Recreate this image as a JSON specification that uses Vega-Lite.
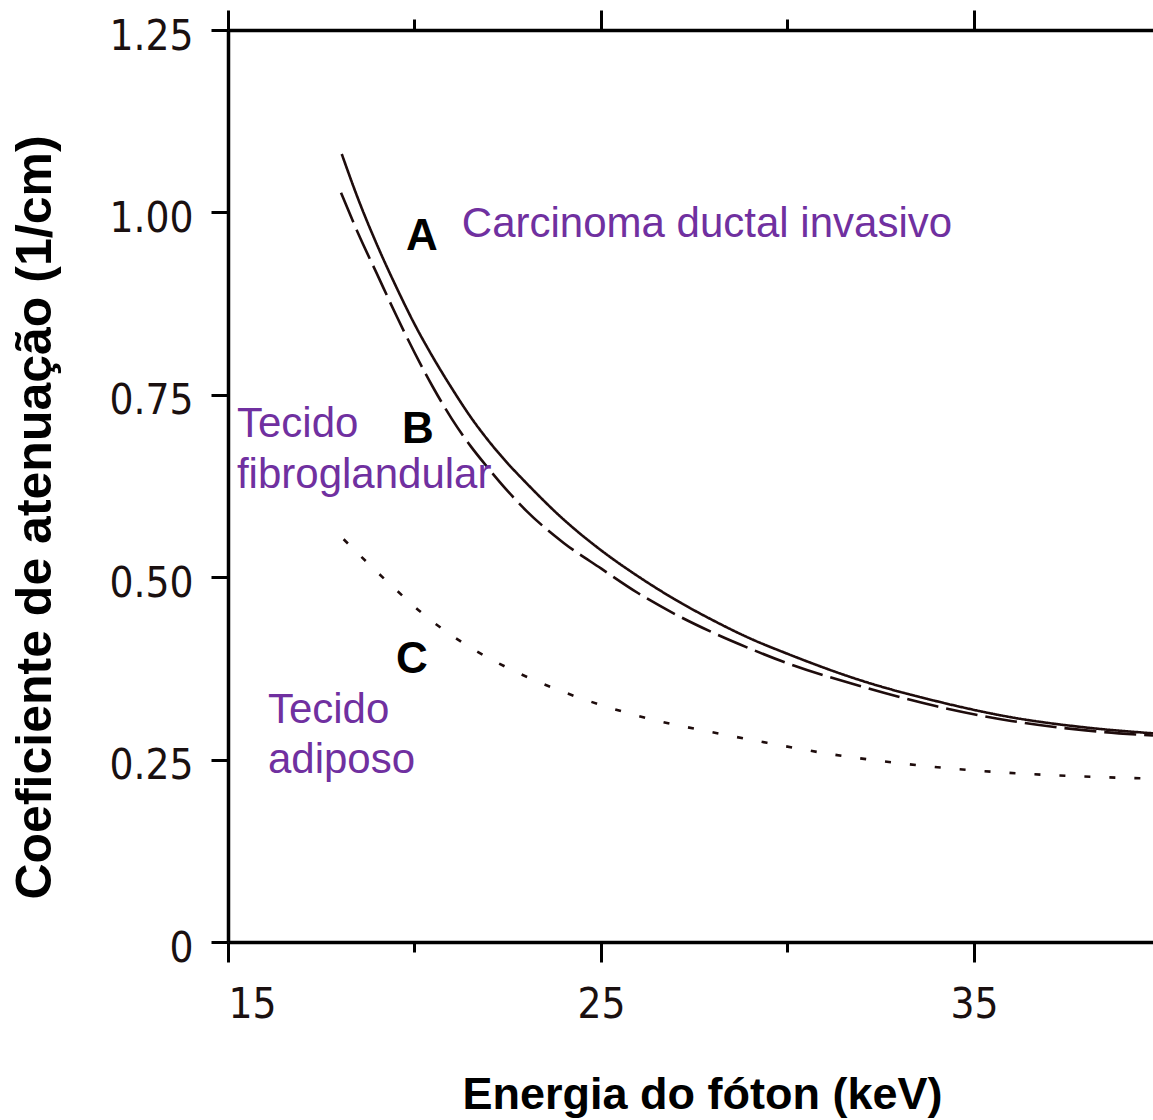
{
  "$schema": "https://vega.github.io/schema/vega-lite/v6.json",
  "width": 925,
  "height": 912,
  "autosize": {"type": "none"},
  "padding": {"left": 228, "top": 30, "right": 0, "bottom": 178},
  "background": "white",
  "config": {"view": {"stroke": null}},
  "resolve": {"axis": {"x": "independent", "y": "independent"}},
  "layer": [
    {
      "data": {"values": [
        {"x": 18.05, "y": 1.080, "s": "A"},
        {"x": 18.5, "y": 1.017, "s": "A"},
        {"x": 19.0, "y": 0.955, "s": "A"},
        {"x": 19.5, "y": 0.899, "s": "A"},
        {"x": 20.0, "y": 0.847, "s": "A"},
        {"x": 20.5, "y": 0.801, "s": "A"},
        {"x": 21.0, "y": 0.759, "s": "A"},
        {"x": 21.5, "y": 0.720, "s": "A"},
        {"x": 22.0, "y": 0.686, "s": "A"},
        {"x": 22.5, "y": 0.656, "s": "A"},
        {"x": 23.0, "y": 0.629, "s": "A"},
        {"x": 24.0, "y": 0.579, "s": "A"},
        {"x": 25.0, "y": 0.537, "s": "A"},
        {"x": 26.0, "y": 0.501, "s": "A"},
        {"x": 27.0, "y": 0.469, "s": "A"},
        {"x": 28.0, "y": 0.441, "s": "A"},
        {"x": 29.0, "y": 0.416, "s": "A"},
        {"x": 30.0, "y": 0.395, "s": "A"},
        {"x": 32.0, "y": 0.358, "s": "A"},
        {"x": 34.0, "y": 0.330, "s": "A"},
        {"x": 36.0, "y": 0.308, "s": "A"},
        {"x": 38.0, "y": 0.294, "s": "A"},
        {"x": 39.8, "y": 0.286, "s": "A"},
        {"x": 18.03, "y": 1.027, "s": "B"},
        {"x": 18.5, "y": 0.970, "s": "B"},
        {"x": 19.0, "y": 0.915, "s": "B"},
        {"x": 19.5, "y": 0.860, "s": "B"},
        {"x": 20.0, "y": 0.808, "s": "B"},
        {"x": 20.5, "y": 0.760, "s": "B"},
        {"x": 21.0, "y": 0.717, "s": "B"},
        {"x": 21.5, "y": 0.680, "s": "B"},
        {"x": 22.0, "y": 0.648, "s": "B"},
        {"x": 22.5, "y": 0.618, "s": "B"},
        {"x": 23.0, "y": 0.591, "s": "B"},
        {"x": 24.0, "y": 0.547, "s": "B"},
        {"x": 25.0, "y": 0.512, "s": "B"},
        {"x": 26.0, "y": 0.478, "s": "B"},
        {"x": 27.0, "y": 0.449, "s": "B"},
        {"x": 28.0, "y": 0.424, "s": "B"},
        {"x": 29.0, "y": 0.402, "s": "B"},
        {"x": 30.0, "y": 0.382, "s": "B"},
        {"x": 32.0, "y": 0.350, "s": "B"},
        {"x": 34.0, "y": 0.323, "s": "B"},
        {"x": 36.0, "y": 0.303, "s": "B"},
        {"x": 38.0, "y": 0.290, "s": "B"},
        {"x": 39.8, "y": 0.283, "s": "B"},
        {"x": 18.1, "y": 0.552, "s": "C"},
        {"x": 19.29, "y": 0.493, "s": "C"},
        {"x": 20.34, "y": 0.445, "s": "C"},
        {"x": 21.49, "y": 0.404, "s": "C"},
        {"x": 22.69, "y": 0.371, "s": "C"},
        {"x": 23.98, "y": 0.343, "s": "C"},
        {"x": 25.24, "y": 0.321, "s": "C"},
        {"x": 26.53, "y": 0.303, "s": "C"},
        {"x": 27.84, "y": 0.289, "s": "C"},
        {"x": 29.45, "y": 0.273, "s": "C"},
        {"x": 31.22, "y": 0.257, "s": "C"},
        {"x": 33.02, "y": 0.245, "s": "C"},
        {"x": 34.81, "y": 0.236, "s": "C"},
        {"x": 36.58, "y": 0.230, "s": "C"},
        {"x": 38.38, "y": 0.226, "s": "C"},
        {"x": 39.8, "y": 0.224, "s": "C"}
      ]},
      "mark": {"type": "line", "color": "#1e0c0c", "interpolate": "monotone"},
      "encoding": {
        "x": {
          "field": "x", "type": "quantitative",
          "scale": {"domain": [15, 39.8], "nice": false, "zero": false},
          "axis": {
            "orient": "bottom",
            "values": [15, 20, 25, 30, 35],
            "labelExpr": "datum.value % 10 == 5 ? datum.label : ''",
            "grid": false,
            "domainColor": "black", "domainWidth": 3.5,
            "tickColor": "black", "tickWidth": 3,
            "tickSize": {"condition": {"test": "datum.value % 10 == 5", "value": 20}, "value": 10},
            "labelFont": "DejaVu Sans Condensed, DejaVu Sans, sans-serif", "labelFontSize": 42, "labelColor": "#1a1010",
            "labelBaseline": "top", "labelPadding": 22, "labelOverlap": false,
            "title": "Energia do fóton (keV)",
            "titleFont": "Liberation Sans, Arial, sans-serif", "titleFontSize": 45, "titleFontWeight": "bold",
            "titleColor": "black", "titleX": 474, "titleY": 166,
            "titleAlign": "center", "titleBaseline": "alphabetic"
          }
        },
        "y": {
          "field": "y", "type": "quantitative",
          "scale": {"domain": [0, 1.25], "nice": false, "zero": false},
          "axis": {
            "orient": "left",
            "values": [0, 0.25, 0.5, 0.75, 1, 1.25],
            "labelExpr": "datum.value == 0 ? '0' : format(datum.value, '.2f')",
            "grid": false,
            "domainColor": "black", "domainWidth": 3.5,
            "tickColor": "black", "tickWidth": 3, "tickSize": 17,
            "labelFont": "DejaVu Sans Condensed, DejaVu Sans, sans-serif", "labelFontSize": 42, "labelColor": "#1a1010",
            "labelPadding": 18, "labelOffset": 6, "labelOverlap": false, "labelBound": false,
            "title": "Coeficiente de atenuação (1/cm)",
            "titleFont": "Liberation Sans, Arial, sans-serif", "titleFontSize": 50, "titleFontWeight": "bold",
            "titleColor": "black", "titleAngle": -90, "titleX": -193, "titleY": 487,
            "titleAlign": "center", "titleBaseline": "middle"
          }
        },
        "strokeDash": {
          "field": "s", "type": "nominal",
          "scale": {"domain": ["A", "B", "C"], "range": [[1, 0], [32, 8], [6, 19]]},
          "legend": null
        },
        "strokeWidth": {
          "field": "s", "type": "nominal",
          "scale": {"domain": ["A", "B", "C"], "range": [2.6, 2.6, 3.2]},
          "legend": null
        },
        "detail": {"field": "s"}
      }
    },
    {
      "data": {"values": [
        {"x": 21.27, "y": 0.966, "t": "Carcinoma ductal invasivo"},
        {"x": 15.24, "y": 0.692, "t": "Tecido"},
        {"x": 15.24, "y": 0.622, "t": "fibroglandular"},
        {"x": 16.07, "y": 0.300, "t": "Tecido"},
        {"x": 16.07, "y": 0.232, "t": "adiposo"}
      ]},
      "mark": {"type": "text", "font": "Liberation Sans, Arial, sans-serif", "fontSize": 42, "color": "#7030A0", "align": "left", "baseline": "alphabetic"},
      "encoding": {
        "x": {
          "field": "x", "type": "quantitative",
          "axis": {
            "orient": "top",
            "values": [15, 20, 25, 30, 35],
            "labels": false, "grid": false, "title": null,
            "domainColor": "black", "domainWidth": 3.5,
            "tickColor": "black", "tickWidth": 3,
            "tickSize": {"condition": {"test": "datum.value % 10 == 5", "value": 20}, "value": 11}
          }
        },
        "y": {"field": "y", "type": "quantitative", "axis": null},
        "text": {"field": "t", "type": "nominal"}
      }
    },
    {
      "data": {"values": [
        {"x": 20.2, "y": 0.948, "t": "A"},
        {"x": 20.09, "y": 0.684, "t": "B"},
        {"x": 19.93, "y": 0.369, "t": "C"}
      ]},
      "mark": {"type": "text", "font": "Liberation Sans, Arial, sans-serif", "fontSize": 44, "fontWeight": "bold", "color": "black", "align": "center", "baseline": "alphabetic"},
      "encoding": {
        "x": {"field": "x", "type": "quantitative", "axis": null},
        "y": {"field": "y", "type": "quantitative", "axis": null},
        "text": {"field": "t", "type": "nominal"}
      }
    }
  ]
}
